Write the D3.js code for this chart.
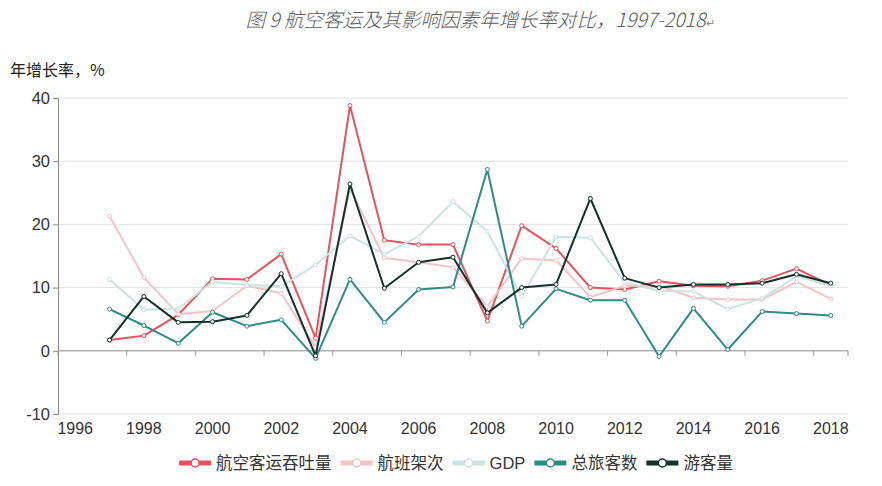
<!DOCTYPE html>
<html><head><meta charset="utf-8">
<script src="https://cdn.jsdelivr.net/npm/d3@7/dist/d3.min.js"></script>
<style>
html,body{margin:0;padding:0;background:#fff;}
svg{display:block;}
</style></head>
<body>
<svg id="chart" width="882" height="486"></svg>
<script>
// ---- data ----
const categories = d3.range(1996, 2019);          // axis categories
const years = d3.range(1997, 2019);               // years with data
const tickYears = [1996,1998,2000,2002,2004,2006,2008,2010,2012,2014,2016,2018];
const yTicks = [-10, 0, 10, 20, 30, 40];

const airPassengerThroughput = [1.7, 2.4, 5.7, 11.4, 11.3, 15.3, 2.0, 38.8, 17.5, 16.8, 16.8, 4.7, 19.8, 16.2, 10.0, 9.7, 11.0, 10.3, 10.2, 11.1, 13.0, 10.4];
const flightMovements = [21.3, 11.6, 5.8, 6.3, 10.3, 9.1, 0.5, 25.6, 14.7, 14.0, 13.2, 7.0, 14.6, 14.3, 8.5, 10.3, 10.3, 8.4, 8.1, 8.1, 10.9, 8.2];
const gdp = [11.3, 6.5, 6.7, 10.9, 10.4, 10.2, 13.6, 18.2, 15.3, 18.1, 23.6, 18.9, 8.6, 18.0, 17.9, 10.8, 9.5, 9.4, 6.6, 8.3, 11.8, 10.3];
const totalTravellers = [6.6, 4.0, 1.2, 6.1, 3.9, 4.9, -1.2, 11.3, 4.5, 9.7, 10.1, 28.7, 3.9, 9.8, 8.0, 8.0, -0.9, 6.7, 0.2, 6.2, 5.9, 5.6];
const visitors = [1.7, 8.6, 4.5, 4.6, 5.6, 12.2, -0.8, 26.4, 9.9, 14.0, 14.8, 6.0, 10.0, 10.5, 24.1, 11.5, 10.0, 10.5, 10.5, 10.7, 12.1, 10.7];

const seriesNames = ["航空客运吞吐量", "航班架次", "GDP", "总旅客数", "游客量"];
const seriesValues = [airPassengerThroughput, flightMovements, gdp, totalTravellers, visitors];
const seriesColors = ["#e4545e", "#f5c3c7", "#cde2e1", "#2f8c85", "#13302b"];

const titleText = "图 9 航空客运及其影响因素年增长率对比，1997-2018";
const yLabelText = "年增长率，%";

// ---- layout ----
const svg = d3.select("#chart");
const L = 58, R = 848, T = 98, B = 414;
const numFont = "'Liberation Sans', Arial, sans-serif";
const cjkFont = "'Noto Sans CJK SC', 'Noto Sans', sans-serif";

const x = d3.scaleBand().domain(categories).range([L, R]).paddingInner(0).paddingOuter(0);
const cx = v => x(v) + x.bandwidth() / 2;
const y = d3.scaleLinear().domain([-10, 40]).range([B, T]);

// title
const title = svg.append("text")
  .attr("x", 480).attr("y", 27)
  .attr("text-anchor", "middle")
  .attr("font-family", cjkFont)
  .attr("font-size", 19.5)
  .attr("font-weight", 300)
  .attr("font-style", "italic")
  .attr("fill", "#5a5a5a")
  .text(titleText);
title.append("tspan").attr("font-size", 11).attr("fill", "#888").attr("font-style", "normal").text("↵");

// y label
svg.append("text")
  .attr("x", 10).attr("y", 76)
  .attr("font-family", cjkFont)
  .attr("font-size", 16)
  .attr("fill", "#222")
  .text(yLabelText);

// gridlines
svg.append("g").selectAll("line").data(yTicks).join("line")
  .attr("x1", L).attr("x2", R)
  .attr("y1", d => y(d)).attr("y2", d => y(d))
  .attr("stroke", "#e2e2e2").attr("stroke-width", 1);

// y axis
const yAxis = svg.append("g").attr("transform", `translate(${L},0)`)
  .call(d3.axisLeft(y).tickValues(yTicks).tickSize(5).tickPadding(3).tickFormat(d => String(d)));
yAxis.select(".domain").attr("stroke", "#888");
yAxis.selectAll(".tick line").attr("stroke", "#888");
yAxis.selectAll("text").attr("font-family", numFont).attr("font-size", 16.5).attr("fill", "#333");

// x zero axis line with ticks at every second band boundary
const zeroY = y(0);
svg.append("line").attr("x1", L).attr("x2", R).attr("y1", zeroY).attr("y2", zeroY)
  .attr("stroke", "#999").attr("stroke-width", 1);
const boundaries = d3.range(0, categories.length + 1, 2).map(i => L + i * x.bandwidth()).concat([R]);
svg.append("g").selectAll("line").data(boundaries).join("line")
  .attr("x1", d => d).attr("x2", d => d)
  .attr("y1", zeroY).attr("y2", zeroY + 5)
  .attr("stroke", "#999");

// x labels at bottom
svg.append("g").selectAll("text").data(tickYears).join("text")
  .attr("x", d => cx(d)).attr("y", B + 20)
  .attr("text-anchor", "middle")
  .attr("font-family", numFont).attr("font-size", 16).attr("fill", "#333")
  .text(d => d);

// lines
const line = d3.line().x((d, i) => cx(years[i])).y(d => y(d));
seriesValues.forEach((vals, si) => {
  const g = svg.append("g");
  g.append("path").datum(vals)
    .attr("d", line)
    .attr("fill", "none")
    .attr("stroke", seriesColors[si])
    .attr("stroke-width", 2)
    .attr("stroke-linejoin", "round");
  g.selectAll("circle").data(vals).join("circle")
    .attr("cx", (d, i) => cx(years[i])).attr("cy", d => y(d))
    .attr("r", 2)
    .attr("fill", "#fff")
    .attr("stroke", seriesColors[si])
    .attr("stroke-width", 1);
});

// legend
const legend = svg.append("g");
const symW = 32, gapSym = 5, gapItem = 9, legY = 463;
let cursor = 0;
const items = [];
seriesNames.forEach((name, i) => {
  const g = legend.append("g");
  g.append("line").attr("x1", 0).attr("x2", symW).attr("y1", 0).attr("y2", 0)
    .attr("stroke", seriesColors[i]).attr("stroke-width", 5);
  g.append("circle").attr("cx", symW / 2).attr("cy", 0).attr("r", 4)
    .attr("fill", "#fff").attr("stroke", seriesColors[i]).attr("stroke-width", 1.5);
  const t = g.append("text").attr("x", symW + gapSym).attr("y", 6)
    .attr("font-family", name === "GDP" ? numFont : cjkFont)
    .attr("font-size", 16.5).attr("fill", "#333").text(name);
  const w = symW + gapSym + t.node().getComputedTextLength();
  items.push({g, off: cursor});
  cursor += w + gapItem;
});
const totalW = cursor - gapItem;
const startX = 456 - totalW / 2;
items.forEach(it => it.g.attr("transform", `translate(${startX + it.off},${legY})`));
</script>
</body></html>
